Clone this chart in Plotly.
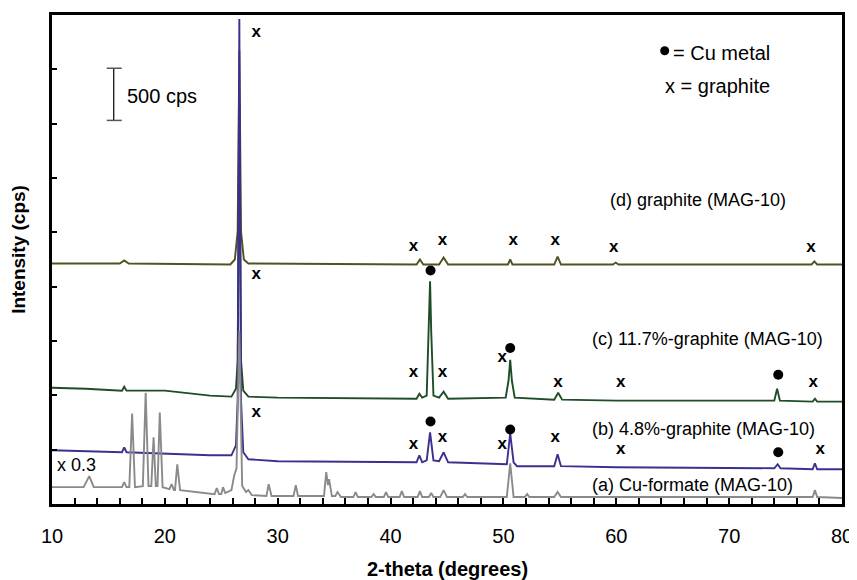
import plotly.graph_objects as go

FONT = "Liberation Sans, Arial, sans-serif"

# ---------------- data (2-theta in degrees, intensity in cps, offsets included) ----
d_x = [10, 16.0, 16.4, 16.8, 25.8, 26.2, 26.45, 26.6, 26.75, 27.0, 27.4, 42.3, 42.6, 42.9,
       44.3, 44.7, 45.1, 50.4, 50.6, 50.8, 54.5, 54.8, 55.1, 59.7, 59.95, 60.2,
       77.3, 77.55, 77.8, 80]
d_y = [2213, 2213, 2241, 2213, 2204, 2250, 2506, 4171, 2506, 2250, 2213, 2204, 2250, 2204,
       2204, 2268, 2204, 2204, 2250, 2204, 2204, 2277, 2204, 2204, 2222, 2204,
       2204, 2232, 2204, 2204]

c_x = [10, 13, 16.2, 16.4, 16.6, 20, 24, 25.9, 26.3, 26.45, 26.6, 26.75, 26.95, 27.4, 30,
       42.3, 42.55, 42.8, 43.2, 43.4, 43.5, 43.6, 43.8, 44.3, 44.7, 45.1,
       50.2, 50.45, 50.6, 50.75, 51.0, 54.5, 54.85, 55.2, 60, 74.0, 74.25, 74.5,
       77.4, 77.6, 77.8, 80]
c_y = [1070, 1061, 1043, 1079, 1043, 1043, 997, 988, 1061, 1317, 3695, 1317, 1043, 988, 979,
       969, 1015, 979, 997, 1591, 2049, 1591, 997, 979, 1033, 969,
       979, 1134, 1326, 1134, 979, 960, 1024, 960, 951, 951, 1061, 951,
       942, 969, 942, 942]

b_x = [10, 14, 16.2, 16.4, 16.6, 24, 25.9, 26.3, 26.45, 26.6, 26.75, 26.95, 27.4, 30,
       42.3, 42.55, 42.8, 43.2, 43.5, 43.8, 44.3, 44.7, 45.1,
       50.3, 50.6, 50.9, 51.2, 54.5, 54.8, 55.1, 60, 74.0, 74.3, 74.55,
       77.4, 77.6, 77.8, 80]
b_y = [494, 485, 476, 521, 476, 448, 448, 540, 951, 4463, 951, 476, 412, 393,
       384, 448, 384, 402, 659, 402, 393, 476, 384,
       366, 649, 384, 348, 348, 457, 348, 338, 329, 366, 329,
       320, 375, 320, 320]

a_x = [10, 12.8, 13.3, 13.7, 16.2, 16.4, 16.6, 16.85, 17.1, 17.35, 18.05, 18.3, 18.55,
       18.8, 19.0, 19.2, 19.35, 19.55, 19.8, 20.4, 20.6, 20.8, 20.9, 21.1, 21.35,
       22, 23.5, 24.4, 24.6, 24.8, 25.0, 25.15, 25.35, 25.9, 26.15, 26.35, 26.6, 26.85,
       27.2, 27.4, 27.7, 29.0, 29.2, 29.45, 31.4, 31.6, 31.8, 34.1, 34.3, 34.45, 34.55,
       34.8, 35.1, 35.3, 35.6, 36.7, 36.9, 37.1, 38.3, 38.5, 38.7, 39.4, 39.6, 39.8,
       40.8, 41.0, 41.2, 42.4, 42.6, 42.8, 43.4, 43.6, 43.8, 44.4, 44.7, 45.0,
       46.4, 46.6, 46.8, 50.3, 50.6, 50.9, 51.9, 52.1, 52.3, 54.5, 54.8, 55.1,
       77.4, 77.6, 77.8, 80]
a_y = [155, 155, 256, 155, 155, 201, 155, 155, 832, 155, 165, 1024, 165,
       165, 613, 165, 165, 841, 155, 137, 183, 128, 128, 366, 128,
       119, 101, 91, 146, 91, 91, 155, 101, 128, 265, 329, 1591, 165,
       110, 128, 82, 73, 183, 73, 73, 174, 73, 73, 293, 174, 229,
       73, 73, 110, 64, 64, 110, 64, 64, 91, 64, 64, 110, 64,
       64, 119, 64, 64, 119, 64, 64, 101, 64, 64, 128, 64,
       64, 91, 64, 64, 375, 64, 64, 91, 64, 64, 110, 64,
       64, 128, 64, 55]

# graphite peak markers ("x") and Cu metal markers (dots)
gx_x = [28.1, 28.1, 28.1, 42.04, 44.6, 50.87, 54.58, 59.78, 77.26,
        42.04, 44.6, 49.9, 54.84, 60.4, 77.44,
        42.04, 44.6, 49.9, 54.58, 60.4, 78.06]
gx_y = [4335, 2113, 841, 2369, 2424, 2424, 2424, 2360, 2360,
        1207, 1207, 1345, 1116, 1116, 1116,
        549, 613, 549, 613, 503, 503]
cu_x = [43.54, 50.6, 74.35, 43.54, 50.6, 74.35]
cu_y = [2149, 1436, 1189, 759, 686, 476]

labels = ["(d) graphite (MAG-10)", "(c) 11.7%-graphite (MAG-10)",
          "(b) 4.8%-graphite (MAG-10)", "(a) Cu-formate (MAG-10)"]
label_x = [59.25, 57.66, 57.66, 57.66]
label_y = [2799, 1518, 686, 174]

x_ticks = [10, 20, 30, 40, 50, 60, 70, 80]
y_ticks = [0, 500, 1000, 1500, 2000, 2500, 3000, 3500, 4000, 4500]

fig = go.Figure()
series = [(d_x, d_y, "#52521f"), (c_x, c_y, "#1f4d26"), (b_x, b_y, "#3b308e"),
          (a_x, a_y, "#8a8a8a")]
for xs, ys, col in series:
    fig.add_trace(go.Scatter(x=xs, y=ys, mode="lines",
                             line=dict(color=col, width=1.9), hoverinfo="skip"))

fig.add_trace(go.Scatter(x=gx_x, y=gx_y, mode="text", text=["x"] * len(gx_x),
                         textposition="middle center",
                         textfont=dict(family=FONT, size=17, color="black", weight="bold")))
fig.add_trace(go.Scatter(x=cu_x, y=cu_y, mode="markers",
                         marker=dict(symbol="circle", size=10, color="black")))
# legend key dot
fig.add_trace(go.Scatter(x=[64.29], y=[4171], mode="markers",
                         marker=dict(symbol="circle", size=9, color="black")))

ann = []
for t, x, y in zip(labels, label_x, label_y):
    ann.append(dict(x=x, y=y, xref="x", yref="y", text=t, showarrow=False,
                    xanchor="left", yanchor="middle", font=dict(family=FONT, size=18, color="black")))
ann.append(dict(x=10.26, y=357, xref="x", yref="y", text="x 0.3", showarrow=False,
                xanchor="left", yanchor="middle", font=dict(family=FONT, size=18, color="black")))
ann.append(dict(x=64.82, y=4152, xref="x", yref="y", text="= Cu metal", showarrow=False,
                xanchor="left", yanchor="middle", font=dict(family=FONT, size=20, color="black")))
ann.append(dict(x=64.11, y=3851, xref="x", yref="y", text="x = graphite", showarrow=False,
                xanchor="left", yanchor="middle", font=dict(family=FONT, size=20, color="black")))
ann.append(dict(x=16.44, y=3759, xref="x", yref="y", text="500 cps", showarrow=False,
                xanchor="left", yanchor="middle", font=dict(family=FONT, size=20, color="black")))
ann.append(dict(x=0.5, y=-0.132, xref="paper", yref="paper", text="<b>2-theta (degrees)</b>",
                showarrow=False, xanchor="center", yanchor="middle",
                font=dict(family=FONT, size=20, color="black")))
ann.append(dict(x=-0.0416, y=0.52, xref="paper", yref="paper", text="<b>Intensity (cps)</b>",
                showarrow=False, textangle=-90, xanchor="center", yanchor="middle",
                font=dict(family=FONT, size=19, color="black")))

shapes = [
    dict(type="line", xref="x", yref="y", x0=15.47, x1=15.47, y0=3530, y1=4010,
         line=dict(color="black", width=1.2)),
    dict(type="line", xref="x", yref="y", x0=14.85, x1=16.18, y0=4010, y1=4010,
         line=dict(color="#555", width=1.5)),
    dict(type="line", xref="x", yref="y", x0=14.85, x1=16.18, y0=3530, y1=3530,
         line=dict(color="#555", width=1.5)),
]

fig.update_layout(
    width=849, height=572,
    margin=dict(l=44, r=12, t=4, b=76),
    paper_bgcolor="white", plot_bgcolor="white",
    showlegend=False,
    annotations=ann, shapes=shapes,
    xaxis=dict(range=[10, 80], tickvals=x_ticks, ticktext=[str(v) for v in x_ticks],
               ticks="inside", ticklen=6, tickwidth=2, tickcolor="black",
               minor=dict(dtick=2, ticks="inside", ticklen=6, tickwidth=2, tickcolor="black"),
               showline=True, linewidth=3, linecolor="black", mirror=True,
               showgrid=False, zeroline=False, ticklabelstandoff=12,
               tickfont=dict(family=FONT, size=20, color="black")),
    yaxis=dict(range=[0, 4500], tickvals=y_ticks, showticklabels=False,
               ticks="inside", ticklen=5, tickwidth=2, tickcolor="black",
               showline=True, linewidth=3, linecolor="black", mirror=True,
               showgrid=False, zeroline=False),
)

fig.write_html("out.html")
